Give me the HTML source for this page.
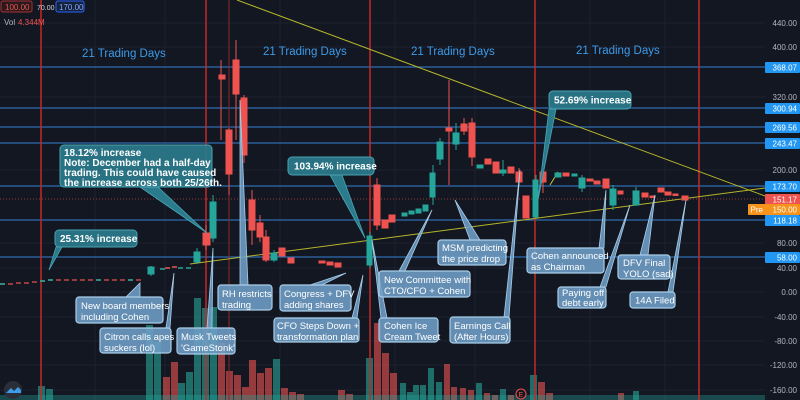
<!DOCTYPE html>
<html><head><meta charset="utf-8"><style>
html,body{margin:0;padding:0;background:#131722;}
svg{display:block;font-family:"Liberation Sans",sans-serif;}
.lb{fill:#6f9fc7;fill-opacity:.88;stroke:#a9cde8;stroke-width:1.2;}
.tb{fill:#2a7b8c;fill-opacity:.92;stroke:#4aa3b3;stroke-width:1;}
.lt{fill:#fff;font-size:9.5px;}
.tt{fill:#fff;font-size:10px;font-weight:bold;}
.ax{fill:#b2b5be;font-size:8px;}
.td{fill:#3d9be9;font-size:11.5px;}
</style></head><body>
<svg width="800" height="400" viewBox="0 0 800 400">
<rect width="800" height="400" fill="#131722"/>
<g stroke="#1e2230" stroke-width="1">
<line x1="0" y1="23" x2="765" y2="23"/><line x1="0" y1="47" x2="765" y2="47"/><line x1="0" y1="97" x2="765" y2="97"/><line x1="0" y1="170" x2="765" y2="170"/><line x1="0" y1="243" x2="765" y2="243"/><line x1="0" y1="268" x2="765" y2="268"/><line x1="0" y1="292" x2="765" y2="292"/><line x1="0" y1="317" x2="765" y2="317"/><line x1="0" y1="341" x2="765" y2="341"/><line x1="0" y1="365" x2="765" y2="365"/><line x1="0" y1="390" x2="765" y2="390"/>
<line x1="95" y1="0" x2="95" y2="400"/><line x1="165" y1="0" x2="165" y2="400"/><line x1="280" y1="0" x2="280" y2="400"/><line x1="395" y1="0" x2="395" y2="400"/><line x1="475" y1="0" x2="475" y2="400"/><line x1="590" y1="0" x2="590" y2="400"/><line x1="665" y1="0" x2="665" y2="400"/>
</g>
<g fill-opacity=".6">
<g fill="#26a69a">
<rect x="38" y="386" width="7" height="14"/><rect x="46" y="389" width="7" height="11"/>
<rect x="146" y="325" width="7" height="75"/><rect x="154" y="342" width="7" height="58"/>
<rect x="178" y="383" width="7" height="17"/><rect x="186" y="372" width="7" height="28"/>
<rect x="194" y="298" width="7" height="102"/><rect x="202" y="308" width="7" height="92"/><rect x="210" y="307" width="7" height="93"/>
<rect x="273" y="359" width="7" height="41"/><rect x="366" y="358" width="7" height="42"/>
<rect x="400" y="383" width="6" height="17"/><rect x="407" y="392" width="6" height="8"/><rect x="413" y="385" width="6" height="15"/><rect x="420" y="385" width="6" height="15"/><rect x="428" y="368" width="6" height="32"/><rect x="436" y="382" width="6" height="18"/><rect x="476" y="383" width="6" height="17"/><rect x="500" y="389" width="6" height="11"/><rect x="530" y="375" width="7" height="25"/><rect x="633" y="391" width="6" height="9"/>
</g>
<g fill="#ef5350">
<rect x="163" y="377" width="7" height="23"/><rect x="171" y="362" width="7" height="38"/>
<rect x="218" y="343" width="7" height="57"/><rect x="226" y="371" width="7" height="29"/><rect x="234" y="375" width="7" height="25"/><rect x="242" y="387" width="7" height="13"/><rect x="249" y="360" width="7" height="40"/><rect x="257" y="373" width="7" height="27"/><rect x="265" y="368" width="7" height="32"/><rect x="281" y="388" width="7" height="12"/><rect x="289" y="392" width="7" height="8"/><rect x="297" y="394" width="7" height="6"/><rect x="338" y="390" width="7" height="10"/><rect x="346" y="394" width="7" height="6"/>
<rect x="374" y="323" width="7" height="77"/><rect x="382" y="353" width="7" height="47"/><rect x="390" y="373" width="7" height="27"/>
<rect x="444" y="364" width="6" height="36"/><rect x="451" y="387" width="6" height="13"/><rect x="460" y="388" width="6" height="12"/><rect x="468" y="390" width="6" height="10"/><rect x="484" y="393" width="6" height="7"/><rect x="492" y="395" width="6" height="5"/><rect x="508" y="395" width="6" height="5"/><rect x="538" y="382" width="7" height="18"/><rect x="546" y="393" width="7" height="7"/><rect x="618" y="393" width="6" height="7"/>
</g>
<rect x="0" y="395" width="765" height="5" fill="#26a69a" fill-opacity=".35"/>
</g>
<g stroke="#2e6db0" stroke-width="1.3">
<line x1="0" y1="67" x2="765" y2="67"/><line x1="0" y1="108" x2="765" y2="108"/><line x1="0" y1="127" x2="765" y2="127"/><line x1="0" y1="143" x2="765" y2="143"/><line x1="0" y1="186" x2="765" y2="186"/><line x1="0" y1="220" x2="765" y2="220"/><line x1="0" y1="257" x2="765" y2="257"/>
</g>
<line x1="0" y1="199" x2="765" y2="199" stroke="#ef5350" stroke-dasharray="1,2" stroke-opacity=".6"/>
<g stroke="#c62828" stroke-width="1.5">
<line x1="41" y1="0" x2="41" y2="400"/><line x1="206" y1="0" x2="206" y2="400"/><line x1="370" y1="0" x2="370" y2="400"/><line x1="535" y1="0" x2="535" y2="400"/><line x1="699" y1="0" x2="699" y2="400"/>
</g>
<line x1="229" y1="0" x2="229" y2="400" stroke="#8a2a2a" stroke-width="1"/>
<line x1="237" y1="0" x2="765" y2="196" stroke="#b5b52a" stroke-width="1"/>
<line x1="190" y1="264" x2="765" y2="188" stroke="#b5b52a" stroke-width="1"/>
<line x1="550" y1="185" x2="558" y2="172" stroke="#c8c83a" stroke-width="1"/>
<g stroke-width="1.5">
<path d="M0 284h5M8 284h5M16 283h5M24 283h5M32 282h5M40 281h5M48 280h5M56 280h5M64 280h5M72 280h5M80 280h5M88 280h5M96 280h5M104 280h5M112 280h5M120 280h5M128 280h5M136 280h5" stroke="#ef5350" stroke-opacity=".8"/>
<path d="M0 284h5M40 281h5M48 280h5M96 280h5M128 280h5M160 269h5M178 268h5M186 268h5" stroke="#26a69a"/>
<path d="M165 268h5M172 267h5" stroke="#ef5350"/>
</g>
<g stroke="#26a69a" fill="#26a69a">
<line x1="151" y1="266" x2="151" y2="276"/><rect x="148" y="267" width="6" height="7"/>
<line x1="197" y1="248" x2="197" y2="264"/><rect x="194" y="252" width="6" height="10"/>
<line x1="213" y1="195" x2="213" y2="242"/><rect x="210" y="202" width="6" height="36"/>
<line x1="274" y1="250" x2="274" y2="262"/><rect x="271" y="253" width="6" height="7"/>
<line x1="370" y1="232" x2="370" y2="268"/><rect x="367" y="236" width="5" height="29"/>
<rect x="402" y="213" width="5" height="3"/><rect x="409" y="211" width="5" height="3"/><rect x="416" y="209" width="5" height="4"/><rect x="423" y="205" width="5" height="6"/>
<line x1="433" y1="165" x2="433" y2="205"/><rect x="430" y="173" width="5" height="24"/>
<line x1="440" y1="138" x2="440" y2="165"/><rect x="437" y="142" width="6" height="17"/>
<line x1="456" y1="123" x2="456" y2="150"/><rect x="453" y="133" width="6" height="11"/>
<rect x="477" y="165" width="6" height="3"/>
<line x1="503" y1="160" x2="503" y2="176"/><rect x="500" y="170" width="6" height="3"/>
<line x1="536" y1="175" x2="536" y2="218"/><rect x="533" y="180" width="5" height="37"/>
<rect x="555" y="173" width="6" height="4"/><rect x="572" y="174" width="5" height="2"/>
<line x1="582" y1="175" x2="582" y2="192"/><rect x="579" y="178" width="6" height="10"/>
<line x1="613" y1="185" x2="613" y2="210"/><rect x="610" y="189" width="6" height="16"/>
<line x1="636" y1="187" x2="636" y2="206"/><rect x="633" y="191" width="6" height="14"/>
</g>
<g stroke="#ef5350" fill="#ef5350">
<line x1="206" y1="225" x2="206" y2="250"/><rect x="203" y="233" width="7" height="12"/>
<line x1="221" y1="60" x2="221" y2="140"/><rect x="219" y="75" width="6" height="4"/>
<line x1="229" y1="128" x2="229" y2="195"/><rect x="226" y="130" width="6" height="44"/>
<line x1="236" y1="40" x2="236" y2="140"/><rect x="233" y="60" width="6" height="34"/>
<line x1="244" y1="95" x2="244" y2="163"/><rect x="241" y="98" width="6" height="57"/>
<line x1="252" y1="190" x2="252" y2="245"/><rect x="249" y="200" width="6" height="30"/>
<line x1="260" y1="215" x2="260" y2="242"/><rect x="257" y="223" width="6" height="14"/>
<line x1="266" y1="230" x2="266" y2="262"/><rect x="263" y="237" width="6" height="23"/>
<rect x="279" y="248" width="6" height="8"/><rect x="288" y="258" width="6" height="5"/>
<rect x="319" y="261" width="6" height="2"/><rect x="327" y="262" width="6" height="3"/><rect x="335" y="263" width="6" height="4"/>
<line x1="377" y1="178" x2="377" y2="230"/><rect x="374" y="185" width="6" height="40"/>
<rect x="382" y="220" width="6" height="8"/><rect x="389" y="215" width="6" height="7"/>
<line x1="449" y1="80" x2="449" y2="185"/><rect x="446" y="128" width="6" height="3"/>
<line x1="464" y1="118" x2="464" y2="135"/><rect x="461" y="124" width="6" height="7"/>
<line x1="472" y1="118" x2="472" y2="166"/><rect x="469" y="123" width="6" height="34"/>
<rect x="485" y="159" width="6" height="5"/><rect x="493" y="162" width="6" height="11"/>
<rect x="508" y="167" width="6" height="6"/>
<line x1="519" y1="168" x2="519" y2="186"/><rect x="516" y="172" width="6" height="10"/>
<rect x="523" y="196" width="6" height="22"/>
<line x1="543" y1="165" x2="543" y2="193"/><rect x="540" y="172" width="6" height="10"/>
<rect x="563" y="173" width="6" height="3"/><rect x="587" y="179" width="6" height="2"/><rect x="594" y="181" width="6" height="3"/>
<rect x="603" y="179" width="6" height="9"/><rect x="618" y="191" width="5" height="3"/>
<rect x="642" y="193" width="6" height="4"/><rect x="650" y="196" width="5" height="1.5"/><rect x="658" y="188" width="6" height="4"/><rect x="665" y="192" width="6" height="3"/><rect x="673" y="194" width="5" height="1.5"/><rect x="682" y="196" width="6" height="4"/>
</g>
<text class="td" x="82" y="57">21 Trading Days</text>
<text class="td" x="263" y="55">21 Trading Days</text>
<text class="td" x="411" y="55">21 Trading Days</text>
<text class="td" x="576" y="54">21 Trading Days</text>
<g fill="#6f9fc7" fill-opacity=".88" stroke="#a9cde8" stroke-width=".8">
<polygon points="126,297 140,297 140,283"/>
<polygon points="166,328 170,328 174,273"/>
<polygon points="207,328 212,328 213,248"/>
<polygon points="240,285 248,285 240,100"/>
<polygon points="310,285 322,285 346,273"/>
<polygon points="352,318 357,318 363,275"/>
<polygon points="381,318 387,318 372,240"/>
<polygon points="399,271 405,271 432,210"/>
<polygon points="470,240 480,240 455,200"/>
<polygon points="504,317 509,317 520,170"/>
<polygon points="599,248 604,248 606,190"/>
<polygon points="600,287 606,287 630,205"/>
<polygon points="640,255 648,255 655,195"/>
<polygon points="668,292 673,292 686,200"/>
</g>
<g fill="#2a7b8c" stroke="#4aa3b3" stroke-width=".8">
<polygon points="140,187 158,187 207,233"/>
<polygon points="330,175 342,175 365,238"/>
<polygon points="56,247 62,247 49,270"/>
<polygon points="549,109 556,109 538,200"/>
</g>
<rect class="tb" x="60" y="145" width="152" height="42" rx="4"/>
<text class="tt" x="64" y="156">18.12% increase</text>
<text class="tt" x="64" y="166">Note: December had a half-day</text>
<text class="tt" x="64" y="176">trading. This could have caused</text>
<text class="tt" x="64" y="186">the increase across both 25/26th.</text>
<rect class="tb" x="288" y="157" width="86" height="18" rx="4"/>
<text class="tt" x="294" y="169.5">103.94% increase</text>
<rect class="tb" x="55" y="230" width="82" height="17" rx="4"/>
<text class="tt" x="60" y="242">25.31% increase</text>
<rect class="tb" x="549" y="91" width="82" height="18" rx="4"/>
<text class="tt" x="554" y="103.5">52.69% increase</text>
<rect class="lb" x="76" y="297" width="87" height="26" rx="3"/><text class="lt" x="81" y="309">New board members</text><text class="lt" x="81" y="320">including Cohen</text>
<rect class="lb" x="100" y="328" width="71" height="25" rx="3"/><text class="lt" x="104" y="340">Citron calls apes</text><text class="lt" x="104" y="351">suckers (lol)</text>
<rect class="lb" x="177" y="328" width="58" height="26" rx="3"/><text class="lt" x="181" y="340">Musk Tweets</text><text class="lt" x="181" y="351">'GameStonk'</text>
<rect class="lb" x="218" y="285" width="54" height="25" rx="3"/><text class="lt" x="222" y="297">RH restricts</text><text class="lt" x="222" y="308">trading</text>
<rect class="lb" x="280" y="285" width="71" height="26" rx="3"/><text class="lt" x="284" y="297">Congress + DFV</text><text class="lt" x="284" y="308">adding shares</text>
<rect class="lb" x="274" y="318" width="85" height="24" rx="3"/><text class="lt" x="277" y="329">CFO Steps Down +</text><text class="lt" x="277" y="340">transformation plan</text>
<rect class="lb" x="379" y="318" width="59" height="24" rx="3"/><text class="lt" x="384" y="329">Cohen Ice</text><text class="lt" x="384" y="340">Cream Tweet</text>
<rect class="lb" x="379" y="271" width="91" height="26" rx="3"/><text class="lt" x="384" y="283">New Committee with</text><text class="lt" x="384" y="294">CTO/CFO + Cohen</text>
<rect class="lb" x="438" y="240" width="68" height="25" rx="3"/><text class="lt" x="442" y="251">MSM predicting</text><text class="lt" x="442" y="262">the price drop</text>
<rect class="lb" x="450" y="317" width="60" height="26" rx="3"/><text class="lt" x="454" y="329">Earnings Call</text><text class="lt" x="454" y="340">(After Hours)</text>
<rect class="lb" x="527" y="248" width="77" height="25" rx="3"/><text class="lt" x="531" y="259">Cohen announced</text><text class="lt" x="531" y="270">as Chairman</text>
<rect class="lb" x="558" y="287" width="48" height="21" rx="3"/><text class="lt" x="562" y="296">Paying off</text><text class="lt" x="562" y="306">debt early</text>
<rect class="lb" x="618" y="255" width="52" height="24" rx="3"/><text class="lt" x="623" y="266">DFV Final</text><text class="lt" x="623" y="277">YOLO (sad)</text>
<rect class="lb" x="630" y="292" width="45" height="16" rx="3"/><text class="lt" x="635" y="303.5">14A Filed</text>
<circle cx="521" cy="394" r="5" fill="#131722" stroke="#ef5350"/>
<text x="518.5" y="397" fill="#ef5350" font-size="7">E</text>
<circle cx="13" cy="390" r="9" fill="#2a2e39"/>
<path d="M6 393l5-5 3 3 4-4 3 3v3z" fill="#3d9be9"/>
<g class="ax" text-anchor="end">
<text x="797" y="26">440.00</text><text x="797" y="50">400.00</text><text x="797" y="100">320.00</text><text x="797" y="173">200.00</text><text x="797" y="246">80.00</text><text x="797" y="271">40.00</text><text x="797" y="295">0.00</text><text x="797" y="320">-40.00</text><text x="797" y="344">-80.00</text><text x="797" y="368">-120.00</text><text x="797" y="393">-160.00</text>
</g>
<g font-size="8" fill="#fff" text-anchor="end">
<rect x="765" y="62" width="35" height="11" fill="#2196f3" rx="1"/><text x="797" y="70.5">368.07</text>
<rect x="765" y="103" width="35" height="11" fill="#2196f3" rx="1"/><text x="797" y="111.5">300.94</text>
<rect x="765" y="122" width="35" height="11" fill="#2196f3" rx="1"/><text x="797" y="130.5">269.56</text>
<rect x="765" y="138" width="35" height="11" fill="#2196f3" rx="1"/><text x="797" y="146.5">243.47</text>
<rect x="765" y="181" width="35" height="11" fill="#2196f3" rx="1"/><text x="797" y="189.5">173.70</text>
<rect x="765" y="194" width="35" height="11" fill="#ef5350" rx="1"/><text x="797" y="202.5">151.17</text>
<rect x="748" y="204" width="52" height="11" fill="#f7931a" rx="1"/><text x="797" y="212.5">150.00</text><text x="763" y="212.5">Pre</text>
<rect x="765" y="215" width="35" height="11" fill="#2196f3" rx="1"/><text x="797" y="223.5">118.18</text>
<rect x="765" y="252" width="35" height="11" fill="#2196f3" rx="1"/><text x="797" y="260.5">58.00</text>
</g>
<rect x="1" y="1" width="31" height="11" rx="2" fill="#2a1a1e" stroke="#a83232"/><text x="5" y="10" font-size="8" fill="#ef5350">100.00</text>
<text x="37" y="10" font-size="7" fill="#d1d4dc">70.00</text>
<rect x="56" y="1" width="28" height="11" rx="2" fill="#16213a" stroke="#2962ff"/><text x="59" y="10" font-size="8" fill="#7fa7ff">170.00</text>
<text x="4" y="25" font-size="8" fill="#b2b5be">Vol</text><text x="18" y="25" font-size="8" fill="#ef5350">4.344M</text>
</svg>
</body></html>
